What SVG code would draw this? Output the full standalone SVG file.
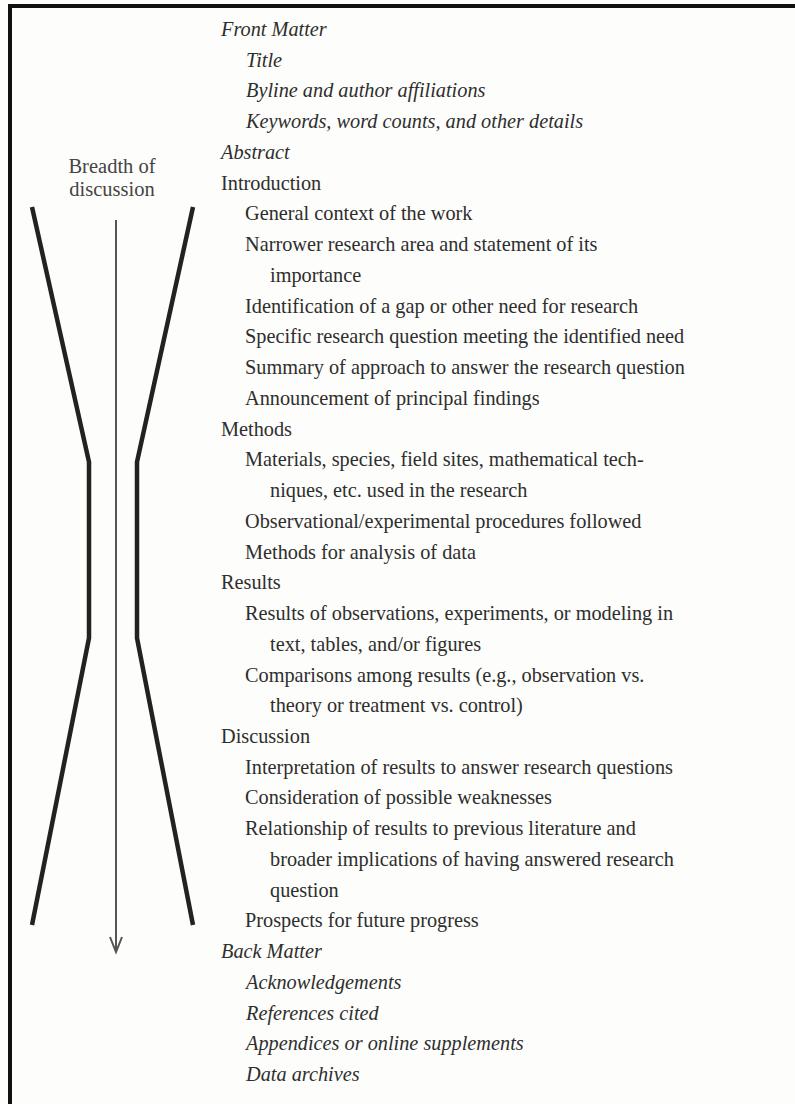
<svg xmlns="http://www.w3.org/2000/svg" width="795" height="1104" viewBox="0 0 795 1104">
<style>
text { font-family: "Liberation Serif", "DejaVu Serif", serif; fill: #2e2e2e; font-size: 20.3px; }
.it { font-style: italic; }
.lbl { font-size: 20.5px; text-anchor: middle; fill: #444; }
.funnel { fill: none; stroke: #222; stroke-width: 4.5; stroke-linejoin: miter; }
.arrow { fill: none; stroke: #555; stroke-width: 2; }
</style>
<rect x="0" y="0" width="795" height="1104" fill="#fdfdfb"/>
<g id="frame">
<rect x="8" y="4" width="787" height="4" fill="#111"/>
<rect x="8" y="4" width="4" height="1100" fill="#111"/>
</g>
<g id="funnel">
<polyline class="funnel" points="32,207 89,462 89,638 32,925"/>
<polyline class="funnel" points="193,207 137,462 137,638 193,925"/>
</g>
<g id="connectors">
<line class="arrow" x1="116" y1="220" x2="116" y2="952"/>
<polyline class="arrow" points="110,937 116,952 122,937"/>
</g>
<g id="label">
<text class="lbl" x="112" y="173">Breadth of</text>
<text class="lbl" x="112" y="196">discussion</text>
</g>
<g id="outline">
<text class="it" x="221" y="36">Front Matter</text>
<text class="it" x="246" y="67">Title</text>
<text class="it" x="246" y="97">Byline and author affiliations</text>
<text class="it" x="246" y="128">Keywords, word counts, and other details</text>
<text class="it" x="221" y="159">Abstract</text>
<text x="221" y="190">Introduction</text>
<text x="245" y="220">General context of the work</text>
<text x="245" y="251">Narrower research area and statement of its</text>
<text x="270" y="282">importance</text>
<text x="245" y="313">Identification of a gap or other need for research</text>
<text x="245" y="343">Specific research question meeting the identified need</text>
<text x="245" y="374">Summary of approach to answer the research question</text>
<text x="245" y="405">Announcement of principal findings</text>
<text x="221" y="436">Methods</text>
<text x="245" y="466">Materials, species, field sites, mathematical tech-</text>
<text x="270" y="497">niques, etc. used in the research</text>
<text x="245" y="528">Observational/experimental procedures followed</text>
<text x="245" y="559">Methods for analysis of data</text>
<text x="221" y="589">Results</text>
<text x="245" y="620">Results of observations, experiments, or modeling in</text>
<text x="270" y="651">text, tables, and/or figures</text>
<text x="245" y="682">Comparisons among results (e.g., observation vs.</text>
<text x="270" y="712">theory or treatment vs. control)</text>
<text x="221" y="743">Discussion</text>
<text x="245" y="774">Interpretation of results to answer research questions</text>
<text x="245" y="804">Consideration of possible weaknesses</text>
<text x="245" y="835">Relationship of results to previous literature and</text>
<text x="270" y="866">broader implications of having answered research</text>
<text x="270" y="897">question</text>
<text x="245" y="927">Prospects for future progress</text>
<text class="it" x="221" y="958">Back Matter</text>
<text class="it" x="246" y="989">Acknowledgements</text>
<text class="it" x="246" y="1020">References cited</text>
<text class="it" x="246" y="1050">Appendices or online supplements</text>
<text class="it" x="246" y="1081">Data archives</text>
</g>
</svg>
